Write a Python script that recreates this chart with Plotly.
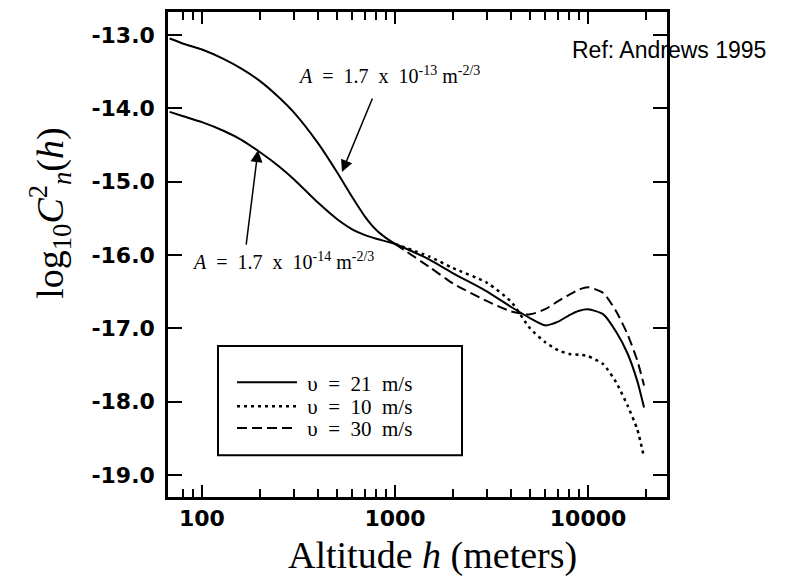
import plotly.graph_objects as go

# ---- data ----
# upper branch, A = 1.7e-13 m^-2/3 (merges with main curve near 1 km)
h_upper = [68, 80, 100, 130, 160, 200, 250, 300, 400, 500, 600, 700, 800, 900, 1000]
cn2_upper = [-13.05, -13.12, -13.20, -13.33, -13.46, -13.63, -13.85, -14.06, -14.48,
             -14.87, -15.21, -15.48, -15.66, -15.77, -15.85]

# main curve, A = 1.7e-14 m^-2/3, v = 21 m/s
h_v21 = [68, 80, 100, 130, 160, 200, 250, 300, 400, 500, 600, 700, 800, 1000, 1500,
         2000, 3000, 4000, 5000, 6000, 7000, 8000, 9000, 10000, 12000, 14000, 16000,
         18000, 19500]
cn2_v21 = [-14.05, -14.11, -14.19, -14.31, -14.43, -14.60, -14.79, -14.97, -15.29,
           -15.51, -15.65, -15.73, -15.78, -15.85, -16.06, -16.25, -16.50, -16.71,
           -16.86, -16.96, -16.91, -16.82, -16.76, -16.74, -16.81, -17.05, -17.34,
           -17.72, -18.08]

h_v = [1000, 1500, 2000, 3000, 4000, 5000, 6000, 7000, 8000, 9000, 10000, 12000,
       14000, 16000, 18000, 19500]
cn2_v10 = [-15.85, -16.02, -16.18, -16.38, -16.64, -17.00, -17.19, -17.30, -17.35,
           -17.36, -17.38, -17.49, -17.74, -18.05, -18.38, -18.76]
cn2_v30 = [-15.85, -16.16, -16.39, -16.63, -16.77, -16.81, -16.74, -16.63, -16.54,
           -16.47, -16.44, -16.52, -16.77, -17.08, -17.44, -17.78]

legend_names = ["\u2005υ\u2002=\u200221\u2002m/s", "\u2005υ\u2002=\u200210\u2002m/s",
                "\u2005υ\u2002=\u200230\u2002m/s"]

y_ticks = [-13, -14, -15, -16, -17, -18, -19]
y_ticktext = ["-13.0", "-14.0", "-15.0", "-16.0", "-17.0", "-18.0", "-19.0"]
x_ticks = [100, 1000, 10000]
x_ticktext = ["100", "1000", "10000"]
x_minor = [80, 90, 200, 300, 400, 500, 600, 700, 800, 900, 2000, 3000, 4000, 5000,
           6000, 7000, 8000, 9000, 20000]

# ---- layout geometry (figure pixels; page has an 8px body margin) ----
OFF = 8
W, H = 770, 571
L, R, T, B = 160, 659, 1, 489


def paper(x, y):
    """reference page pixel -> paper coordinates"""
    fx, fy = x - OFF, y - OFF
    return (fx - L) / (R - L), (B - fy) / (B - T)


fig = go.Figure()
fig.add_trace(go.Scatter(x=h_upper, y=cn2_upper, mode="lines", showlegend=False,
                         line=dict(color="black", width=2, shape="spline", smoothing=0.6)))
fig.add_trace(go.Scatter(x=h_v21, y=cn2_v21, mode="lines", name=legend_names[0],
                         legend="legend",
                         line=dict(color="black", width=2, shape="spline", smoothing=0.6)))
fig.add_trace(go.Scatter(x=h_v, y=cn2_v10, mode="lines", name=legend_names[1],
                         legend="legend2",
                         line=dict(color="black", width=2.5, dash="3px,4px",
                                   shape="spline", smoothing=0.6)))
fig.add_trace(go.Scatter(x=h_v, y=cn2_v30, mode="lines", name=legend_names[2],
                         legend="legend3",
                         line=dict(color="black", width=2, dash="10px,5px",
                                   shape="spline", smoothing=0.6)))

tickfont = dict(family="DejaVu Sans", size=22, color="black", weight="bold")
fig.update_xaxes(type="log", range=[1.824, 4.409], tickvals=x_ticks, ticktext=x_ticktext,
                 ticks="inside", ticklen=12, tickwidth=1.5, tickcolor="black",
                 minor=dict(tickmode="array", tickvals=x_minor, ticks="inside", ticklen=8,
                            tickwidth=1.5, tickcolor="black", showgrid=False),
                 showline=True, linecolor="black", linewidth=2.5, mirror="allticks",
                 showgrid=False, zeroline=False, tickfont=tickfont)
fig.update_yaxes(range=[-19.30, -12.688], tickvals=y_ticks, ticktext=y_ticktext,
                 ticks="inside", ticklen=14, tickwidth=1.5, tickcolor="black",
                 showline=True, linecolor="black", linewidth=2.5, mirror="allticks",
                 showgrid=False, zeroline=False, tickfont=tickfont, ticklabelstandoff=6)

serif = "Liberation Serif"
ann = []


def text_ann(px, py, text, size, family=serif, angle=0):
    x0, y0 = paper(px, py)
    ann.append(dict(x=x0, y=y0, xref="paper", yref="paper", showarrow=False,
                    xanchor="center", yanchor="middle", textangle=angle, text=text,
                    font=dict(family=family, size=size, color="black")))


def arrow_ann(tip, tail):
    x0, y0 = paper(*tip)
    ann.append(dict(x=x0, y=y0, xref="paper", yref="paper", text="", showarrow=True,
                    ax=tail[0] - tip[0], ay=tail[1] - tip[1], arrowhead=2, arrowsize=1.6,
                    arrowwidth=1.5, arrowcolor="black", standoff=0))


text_ann(389, 72, "<i>A</i>\u2002=\u20021.7\u2002x\u200210<sup>-13</sup> m<sup>-2/3</sup>", 20)
text_ann(283, 260, "<i>A</i>\u2002=\u20021.7\u2002x\u200210<sup>-14</sup> m<sup>-2/3</sup>", 20)
arrow_ann((342, 170), (373, 95))
arrow_ann((258, 148), (246, 244))
text_ann(50, 212, "log<sub>10</sub><i>C</i><sup>2</sup><sub><i>n</i></sub>(<i>h</i>)",
         38, angle=-90)
text_ann(432, 556, "Altitude <i>h</i> (meters)", 38)
text_ann(669, 47, "Ref: Andrews 1995", 23, family="Liberation Sans")

# legend frame
bx0, by0 = paper(218, 455)
bx1, by1 = paper(462, 345)
shapes = [dict(type="rect", xref="paper", yref="paper", x0=bx0, y0=by0, x1=bx1, y1=by1,
               line=dict(color="black", width=2), fillcolor="rgba(0,0,0,0)")]


def legend_at(py):
    lx, ly = paper(232, py)
    return dict(x=lx, y=ly, xanchor="left", yanchor="middle", bgcolor="rgba(0,0,0,0)",
                borderwidth=0, itemwidth=60,
                font=dict(family=serif, size=21, color="black"))


fig.update_layout(
    width=W, height=H,
    margin=dict(l=L, r=W - R, t=T, b=H - B, pad=0),
    plot_bgcolor="white", paper_bgcolor="white",
    annotations=ann, shapes=shapes,
    legend=legend_at(382), legend2=legend_at(406), legend3=legend_at(428),
)
fig.write_html("out.html")
